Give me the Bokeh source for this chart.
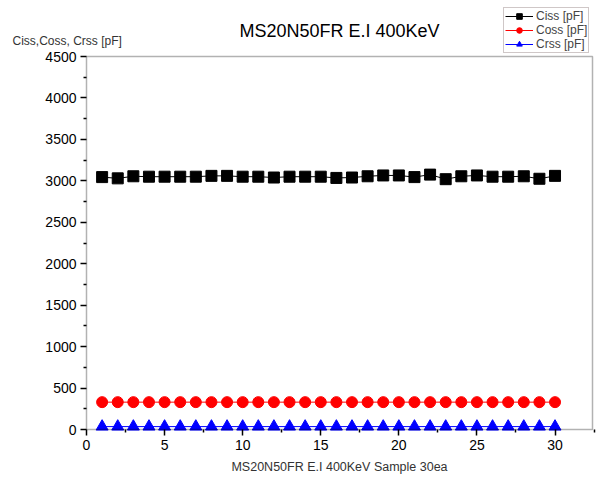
from bokeh.plotting import figure
from bokeh.models import Label, Legend, LegendItem, Range1d, FixedTicker, ColumnDataSource, BoxAnnotation
from bokeh.embed import file_html
from bokeh.resources import INLINE

samples = list(range(1, 31))
ciss = [3045, 3030, 3055, 3050, 3050, 3050, 3050, 3060, 3060, 3050,
        3050, 3040, 3050, 3050, 3050, 3035, 3040, 3055, 3065, 3065,
        3045, 3075, 3020, 3055, 3065, 3050, 3050, 3055, 3025, 3060]
coss = [330] * 30
crss = [35] * 30

title = "MS20N50FR E.I 400KeV"
xlabel = "MS20N50FR E.I 400KeV Sample 30ea"
ylabel = "Ciss,Coss, Crss [pF]"
series_names = ["Ciss [pF]", "Coss [pF]", "Crss [pF]"]
x_ticks = [0, 5, 10, 15, 20, 25, 30]
x_minor = [2.5, 7.5, 12.5, 17.5, 22.5, 27.5, 32.5]
y_ticks = [0, 500, 1000, 1500, 2000, 2500, 3000, 3500, 4000, 4500]
y_minor = [250, 750, 1250, 1750, 2250, 2750, 3250, 3750, 4250]
XMIN, XMAX, YMIN, YMAX = 0, 32.4, 0, 4500

FONT = "Liberation Sans"
colors = ["black", "red", "blue"]
markers = ["square", "circle", "triangle"]
sizes = [11, 11, 12]

# layout (page pixels): the frame covers the whole canvas; the axes box sits inside it
W, H = 600, 478
BL, BR, BT, BB = 86, 592, 56, 429
sx = (BR - BL) / (XMAX - XMIN)
sy = (BB - BT) / (YMAX - YMIN)
x_range = Range1d(XMIN - BL / sx, XMAX + (W - BR) / sx)
y_range = Range1d(YMIN - (H - BB) / sy, YMAX + BT / sy)

p = figure(width=W, height=H, output_backend="svg", toolbar_location=None, title=None,
           x_range=x_range, y_range=y_range,
           min_border_left=0, min_border_right=0, min_border_top=0, min_border_bottom=0)
p.xgrid.visible = False
p.ygrid.visible = False
p.outline_line_color = None

for ax in (p.xaxis[0], p.yaxis[0]):
    ax.fixed_location = 0
    ax.axis_line_color = None
    ax.major_tick_line_width = 1.5
    ax.minor_tick_line_width = 1.5
    ax.major_tick_out = 6
    ax.major_tick_in = 0
    ax.minor_tick_out = 3
    ax.minor_tick_in = 0
    ax.major_label_text_font = FONT
    ax.major_label_text_font_size = "14px"
    ax.major_label_text_color = "black"
p.xaxis.ticker = FixedTicker(ticks=x_ticks, minor_ticks=x_minor)
p.yaxis.ticker = FixedTicker(ticks=y_ticks, minor_ticks=y_minor)
p.yaxis.major_label_standoff = 4
p.xaxis.major_label_standoff = 4

p.add_layout(BoxAnnotation(left=XMIN, right=XMAX, bottom=YMIN, top=YMAX, fill_alpha=0,
                           line_color="black", line_width=1.5))

src = ColumnDataSource(dict(x=samples, ciss=ciss, coss=coss, crss=crss))
items = []
for name, col, c, m, s in zip(series_names, ["ciss", "coss", "crss"], colors, markers, sizes):
    lr = p.line("x", col, source=src, line_color=c, line_width=1)
    mr = p.scatter("x", col, source=src, marker=m, size=s, color=c)
    items.append(LegendItem(label=name, renderers=[lr, mr]))

legend = Legend(items=items, location=(503, H - 53), label_text_font=FONT, label_text_font_size="12px",
                label_height=14, glyph_height=14, glyph_width=28, spacing=0, padding=1,
                margin=0, label_standoff=3, border_line_color="#a09090", border_line_width=1,
                background_fill_alpha=1)
p.add_layout(legend, "center")

p.add_layout(Label(x=(BL + BR) / 2, y=H - 30, x_units="screen", y_units="screen", text=title,
                   text_align="center", text_baseline="middle",
                   text_font=FONT, text_font_size="18px", text_color="black"))
p.add_layout(Label(x=12, y=H - 40, x_units="screen", y_units="screen", text=ylabel,
                   text_baseline="middle",
                   text_font=FONT, text_font_size="12px", text_color="#333333"))
p.add_layout(Label(x=(BL + BR) / 2, y=H - 466, x_units="screen", y_units="screen", text=xlabel,
                   text_align="center", text_baseline="middle",
                   text_font=FONT, text_font_size="12.5px", text_color="#333333"))

open("out.html", "w").write(file_html(p, INLINE))
